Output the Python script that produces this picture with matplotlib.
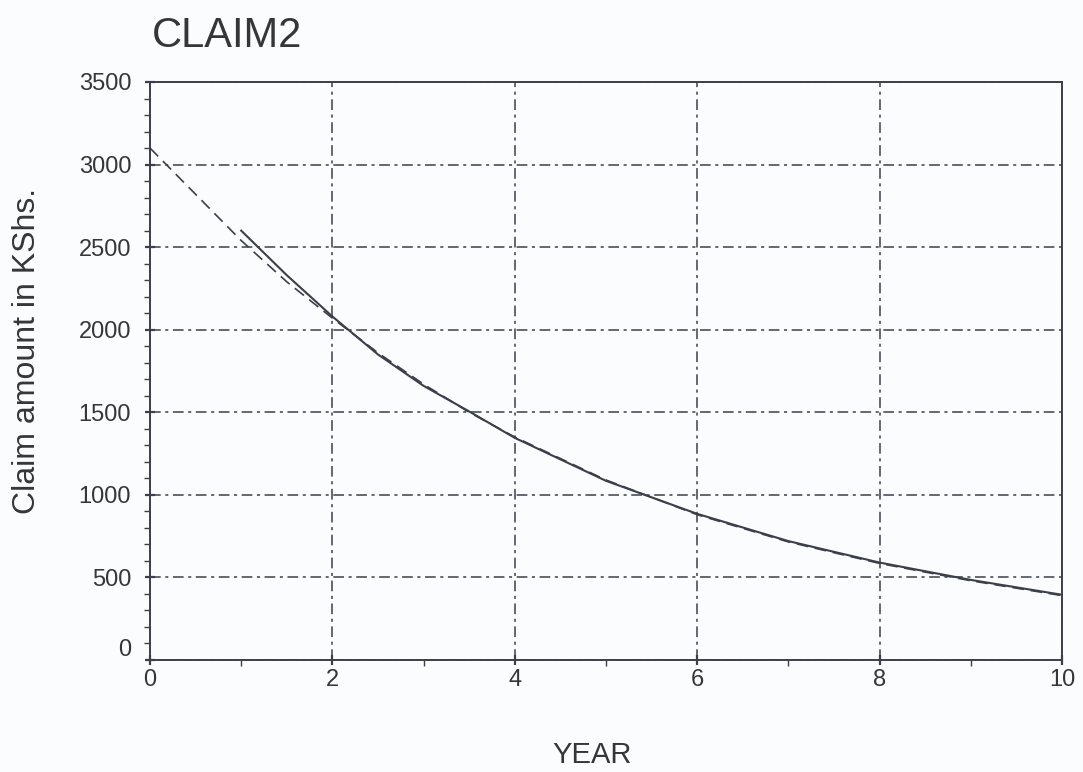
import matplotlib
matplotlib.use("Agg")
import matplotlib.pyplot as plt
import matplotlib.transforms as mtransforms
from matplotlib.ticker import MultipleLocator

# values
fit_years = [0, 0.5, 1, 1.5, 2, 2.5, 3, 3.5, 4, 5, 6, 7, 8, 9, 10]
fit_claims = [3100, 2820, 2540, 2290, 2070, 1860, 1670, 1500, 1350, 1090, 880, 715, 585, 480, 390]

obs_years = [1, 1.5, 2, 2.5, 3, 3.5, 4, 5, 6, 7, 8, 9, 10]
obs_claims = [2600, 2330, 2080, 1850, 1660, 1505, 1345, 1085, 885, 720, 590, 485, 395]

ink = '#363636'
line_col = '#3a3f4a'

plt.rcParams['font.family'] = ['Liberation Sans', 'DejaVu Sans']

fig = plt.figure(figsize=(10.83, 7.72), dpi=100)
fig.patch.set_facecolor('#fbfcfd')
ax = fig.add_axes([150 / 1083, 1 - 660 / 772, 912 / 1083, 578 / 772])
ax.set_facecolor('#fbfcfd')

ax.plot(fit_years, fit_claims, color=line_col, lw=1.2, linestyle=(0, (7, 4)))
ax.plot(obs_years, obs_claims, color=line_col, lw=1.5)

ax.set_xlim(0, 10)
ax.set_ylim(0, 3500)
ax.xaxis.set_major_locator(MultipleLocator(2))
ax.xaxis.set_minor_locator(MultipleLocator(1))
ax.yaxis.set_major_locator(MultipleLocator(500))
ax.yaxis.set_minor_locator(MultipleLocator(100))

ax.grid(True, which='major', color=line_col, lw=1.1, linestyle=(0, (7, 3, 2, 3)))

for s in ax.spines.values():
    s.set_color(line_col)
    s.set_linewidth(1.4)

ax.tick_params(which='major', direction='inout', length=7, width=1.6, color=line_col,
               labelsize=17, labelcolor=ink)
ax.tick_params(axis='y', which='major', pad=10)
ax.tick_params(axis='x', which='major', pad=3)
ax.tick_params(which='minor', direction='out', length=4, width=1.0, color=line_col)
ax.tick_params(top=False, right=False, which='both')

# the zero label sits a little above the axis in the original
fig.canvas.draw()
for lab in ax.get_yticklabels():
    if lab.get_text() in ('0', '\u22120'):
        lab.set_transform(lab.get_transform() +
                          mtransforms.ScaledTranslation(0, 12 / 100, fig.dpi_scale_trans))

ax.set_ylabel('Claim amount in KShs.', fontsize=23, color=ink)
ax.yaxis.label.set_va('center')
ax.yaxis.set_label_coords(-0.135, 0.535)
ax.set_xlabel('YEAR', fontsize=21, color=ink)
ax.xaxis.label.set_va('center')
ax.xaxis.set_label_coords(0.485, -0.164)

fig.text(152 / 1083, 1 - 36 / 772, 'CLAIM2', fontsize=30, color=ink, ha='left', va='center')

plt.savefig('out.png', dpi=100, facecolor=fig.get_facecolor())
plt.close()
